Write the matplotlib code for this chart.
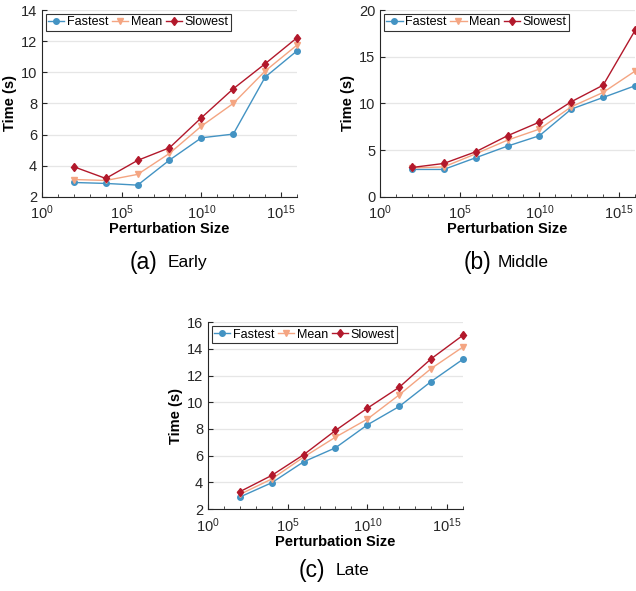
import numpy as np
import matplotlib.pyplot as plt
from matplotlib.ticker import FixedLocator, NullFormatter

sizes = [1e2, 1e4, 1e6, 1e8, 1e10, 1e12, 1e14, 1e16]

early_fastest = [2.92, 2.86, 2.75, 4.36, 5.79, 6.03, 9.69, 11.38]
early_mean = [3.11, 3.05, 3.44, 4.79, 6.54, 8.00, 10.08, 11.75]
early_slowest = [3.93, 3.18, 4.34, 5.15, 7.08, 8.94, 10.55, 12.22]

middle_fastest = [2.93, 2.93, 4.18, 5.43, 6.54, 9.39, 10.64, 11.89]
middle_mean = [3.10, 3.20, 4.60, 6.07, 7.25, 9.64, 11.18, 13.46]
middle_slowest = [3.14, 3.57, 4.82, 6.54, 8.00, 10.18, 11.96, 17.82]

late_fastest = [2.90, 3.97, 5.54, 6.59, 8.31, 9.69, 11.56, 13.23]
late_mean = [3.10, 4.25, 5.89, 7.39, 8.74, 10.56, 12.53, 14.15]
late_slowest = [3.30, 4.52, 6.07, 7.89, 9.56, 11.13, 13.26, 15.03]

c_fast = "#4393c3"
c_mean = "#f4a582"
c_slow = "#b2182b"

plt.rcParams["font.family"] = ["Liberation Sans", "DejaVu Sans"]

fig = plt.figure(figsize=(6.36, 5.91), dpi=100)


def panel(rect, fast, mean, slow, ylim, yticks, letter, name, cap_x, cap_y):
    ax = fig.add_axes(rect)
    ax.set_xscale("log")
    ax.plot(sizes, fast, color=c_fast, marker="o", ms=4, lw=1, label="Fastest", clip_on=False, zorder=3)
    ax.plot(sizes, mean, color=c_mean, marker="v", ms=4.5, lw=1, label="Mean", clip_on=False, zorder=3)
    ax.plot(sizes, slow, color=c_slow, marker="d", ms=4.5, lw=1, label="Slowest", clip_on=False, zorder=3)
    ax.set_xlim(1, 1e16)
    ax.set_ylim(*ylim)
    ax.set_yticks(yticks)
    ax.xaxis.set_major_locator(FixedLocator([1, 1e5, 1e10, 1e15]))
    ax.xaxis.set_minor_locator(FixedLocator([10.0 ** k for k in range(17) if k % 5]))
    ax.xaxis.set_minor_formatter(NullFormatter())
    ax.grid(axis="y", color="#e6e6e6", lw=0.9)
    ax.set_axisbelow(True)
    for s in ["top", "right"]:
        ax.spines[s].set_visible(False)
    for s in ["left", "bottom"]:
        ax.spines[s].set_color("#262626")
        ax.spines[s].set_linewidth(0.8)
    ax.tick_params(which="both", direction="in", colors="#262626", labelsize=10.5)
    ax.tick_params(which="major", length=3.5)
    ax.tick_params(which="minor", length=2)
    ax.tick_params(axis="x", pad=5)
    ax.set_xlabel("Perturbation Size", fontsize=10.5, fontweight="bold", labelpad=0)
    ax.set_ylabel("Time (s)", fontsize=10.5, fontweight="bold", labelpad=3)
    leg = ax.legend(loc="upper left", ncol=3, fontsize=9, frameon=True, fancybox=False,
                    handlelength=1.3, handletextpad=0.2, columnspacing=0.3,
                    borderpad=0.2, borderaxespad=0.3)
    leg.get_frame().set_edgecolor("black")
    leg.get_frame().set_linewidth(0.8)
    fig.text(cap_x[0], cap_y, "(" + letter + ")", fontsize=16.5, ha="right", va="center")
    fig.text(cap_x[1], cap_y, name, fontsize=12.5, ha="left", va="center")
    return ax


panel([0.066, 0.667, 0.401, 0.316], early_fastest, early_mean, early_slowest,
      (2, 14), range(2, 15, 2), "a", "Early", (0.247, 0.264), 0.555)
panel([0.5975, 0.667, 0.401, 0.316], middle_fastest, middle_mean, middle_slowest,
      (0, 20), range(0, 21, 5), "b", "Middle", (0.772, 0.783), 0.555)
panel([0.327, 0.1387, 0.401, 0.316], late_fastest, late_mean, late_slowest,
      (2, 16), range(2, 17, 2), "c", "Late", (0.511, 0.528), 0.0355)

fig.savefig("out.png", dpi=100)
